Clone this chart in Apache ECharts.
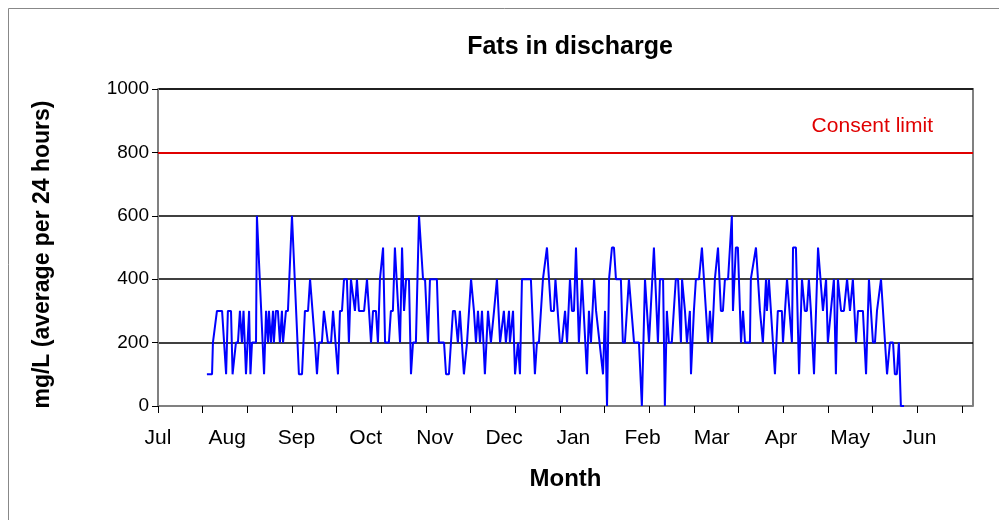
<!DOCTYPE html>
<html>
<head>
<meta charset="utf-8">
<script src="https://cdn.jsdelivr.net/npm/echarts@6/dist/echarts.min.js"></script>
<style>
  html, body { margin: 0; padding: 0; background: #fff; }
  #chart { width: 999px; height: 520px; }
</style>
</head>
<body>
<div id="chart"></div>
<script>
// day number from 1 July, and the fat reading (mg/L) for that sample
var days = [21.9, 24.2, 24.6, 26.4, 28.7, 30.5, 31.3, 32.7, 33.4, 34.9, 35.8, 36.7, 37.6, 38.3, 39.4, 40.8, 41.4, 42.1, 43.9, 44.3,
  47.5, 48.4, 49.3, 49.7, 50.6, 51.5, 51.9, 52.8, 53.7, 54.6, 55.5, 56.0, 57.3, 58.2, 60.0, 63.1, 64.5, 65.8, 67.2, 68.1,
  70.3, 71.2, 72.1, 73.4, 74.3, 76.1, 77.5, 78.4, 80.6, 81.5, 82.4, 83.3, 84.6, 85.5, 86.4, 86.9, 88.2, 89.1, 90.0, 92.3,
  93.6, 94.5, 95.4, 96.3, 97.6, 98.5, 99.4, 100.8, 101.7, 103.4, 104.3, 105.2, 106.1, 108.4, 109.3, 110.2, 111.1, 112.4, 113.3, 114.2,
  115.5, 116.9, 118.7, 119.6, 120.9, 121.8, 124.9, 125.8, 128.1, 129.0, 130.3, 132.1, 133.0, 134.3, 135.2, 137.0, 138.4, 140.2, 141.5, 142.4,
  143.3, 144.2, 145.1, 146.4, 147.8, 149.1, 150.5, 151.8, 153.2, 153.6, 154.9, 155.8, 157.2, 157.6, 159.0, 159.9, 161.2, 162.1, 163.0, 167.0,
  168.8, 169.7, 170.6, 172.4, 174.2, 176.0, 177.3, 178.0, 178.7, 180.0, 180.9, 182.3, 183.2, 184.5, 185.4, 186.3, 187.2, 188.5, 189.9, 192.1,
  193.0, 193.9, 195.3, 196.2, 197.0, 199.3, 200.2, 201.1, 202.0, 203.3, 204.2, 205.1, 207.3, 208.2, 209.1, 210.9, 213.2, 215.4, 216.7, 218.1,
  219.0, 219.9, 222.1, 223.9, 224.8, 226.2, 227.0, 227.5, 227.9, 228.8, 230.1, 231.9, 232.9, 234.2, 234.7, 236.0, 236.9, 238.2, 238.7, 240.0,
  240.9, 242.3, 243.6, 245.4, 246.3, 247.2, 248.1, 249.4, 250.8, 252.1, 253.0, 253.9, 255.3, 257.0, 257.5, 258.8, 259.7, 261.1, 262.0, 262.9,
  265.1, 265.5, 267.8, 269.6, 270.0, 270.9, 272.3, 272.7, 273.6, 276.3, 277.6, 279.4, 279.9, 281.7, 283.9, 284.4, 285.7, 287.1, 288.4, 289.7,
  290.6, 291.5, 292.4, 293.8, 295.6, 297.8, 299.2, 300.0, 300.5, 302.7, 303.6, 304.5, 305.9, 307.2, 308.6, 309.9, 311.2, 312.6, 313.5, 315.7,
  317.1, 318.4, 320.2, 321.1, 322.0, 323.8, 326.5, 327.8, 329.2, 330.0, 330.9, 331.8, 332.7, 334.1];

var fats = [100, 100, 200, 300, 300, 100, 300, 300, 100, 200, 200, 300, 200, 300, 100, 300, 100, 200, 200, 600,
  100, 300, 200, 300, 200, 300, 200, 300, 300, 200, 300, 200, 300, 300, 600, 100, 100, 300, 300, 400,
  200, 100, 200, 200, 300, 200, 200, 300, 100, 300, 300, 400, 400, 200, 400, 400, 300, 400, 300, 300,
  400, 300, 200, 300, 300, 200, 400, 500, 200, 200, 300, 300, 500, 200, 500, 300, 400, 400, 100, 200,
  200, 600, 400, 400, 200, 400, 400, 200, 200, 100, 100, 300, 300, 200, 300, 100, 200, 400, 300, 200,
  300, 200, 300, 100, 300, 200, 300, 400, 200, 200, 300, 200, 300, 200, 300, 100, 200, 100, 400, 400,
  100, 200, 200, 400, 500, 300, 300, 400, 400, 200, 200, 300, 200, 400, 300, 300, 500, 200, 400, 100,
  300, 200, 400, 300, 300, 100, 300, 0, 400, 500, 500, 400, 400, 200, 200, 400, 200, 200, 0, 400,
  300, 200, 500, 200, 400, 400, 0, 0, 300, 200, 200, 400, 400, 200, 400, 300, 200, 300, 100, 300,
  400, 400, 500, 300, 200, 300, 200, 400, 500, 300, 300, 400, 400, 600, 300, 500, 500, 200, 300, 200,
  200, 400, 500, 300, 300, 200, 400, 300, 400, 100, 300, 300, 200, 400, 200, 500, 500, 100, 400, 300,
  300, 400, 300, 100, 500, 300, 400, 200, 200, 400, 100, 400, 300, 300, 400, 300, 400, 200, 300, 300,
  100, 400, 200, 200, 300, 400, 100, 200, 200, 100, 100, 200, 0, 0];

var months = ['Jul', 'Aug', 'Sep', 'Oct', 'Nov', 'Dec', 'Jan', 'Feb', 'Mar', 'Apr', 'May', 'Jun'];
var monthDays = [0, 31, 62, 93, 124, 155, 186, 217, 248, 279, 310, 341];
var tickDays = [0, 20, 40, 60, 80, 100, 120, 140, 160, 180, 200, 220, 240, 260, 280, 300, 320, 340, 360];
var consentLimit = 800;

var points = days.map(function (d, i) { return [d, fats[i]]; });
var font = '"Liberation Sans", Arial, sans-serif';

var chart = echarts.init(document.getElementById('chart'));
var option = {
  animation: false,
  backgroundColor: '#fff',
  textStyle: { fontFamily: font },
  graphic: [{
    type: 'rect',
    shape: { x: 8.5, y: 8.5, width: 1010, height: 530 },
    style: { fill: 'none', stroke: '#888', lineWidth: 1 },
    silent: true
  }, {
    // top and right edge of the plot area
    type: 'polyline',
    shape: { points: [[158, 89], [973, 89], [973, 406]] },
    style: { stroke: '#808080', lineWidth: 2, fill: 'none' },
    silent: true
  }],
  title: {
    text: 'Fats in discharge',
    left: 565,
    top: 30,
    textAlign: 'center',
    textStyle: { fontFamily: font, fontSize: 25, fontWeight: 'bold', color: '#000' }
  },
  grid: { left: 158, right: 26, top: 89, bottom: 114 },
  xAxis: {
    type: 'value',
    min: 0,
    max: 365,
    name: 'Month',
    nameLocation: 'middle',
    nameGap: 61,
    nameTextStyle: { fontFamily: font, fontSize: 24, fontWeight: 'bold', color: '#000' },
    axisLine: { show: true, lineStyle: { color: '#808080', width: 2 } },
    axisTick: { show: true, length: 7, customValues: tickDays, lineStyle: { color: '#000', width: 1 } },
    axisLabel: {
      customValues: monthDays,
      margin: 22,
      fontSize: 21,
      color: '#000',
      formatter: function (v) { return months[monthDays.indexOf(v)] || ''; }
    },
    splitLine: { show: false }
  },
  yAxis: {
    type: 'value',
    min: 0,
    max: 1000,
    interval: 200,
    name: 'mg/L (average per 24 hours)',
    nameLocation: 'middle',
    nameGap: 104,
    nameRotate: 90,
    nameTextStyle: { fontFamily: font, fontSize: 23, fontWeight: 'bold', color: '#000', padding: [0, 14, 0, 0] },
    axisLine: { show: true, lineStyle: { color: '#808080', width: 2 } },
    axisTick: { show: true, length: 6, lineStyle: { color: '#000' } },
    axisLabel: { fontSize: 19, color: '#000', margin: 9, formatter: function (v) { return String(v); } },
    splitLine: { show: true, lineStyle: { color: '#000', width: 1.5 } }
  },
  series: [{
    type: 'line',
    data: points,
    showSymbol: false,
    lineStyle: { color: '#0000ff', width: 2 },
    itemStyle: { color: '#0000ff' },
    z: 3,
    markLine: {
      silent: true,
      symbol: 'none',
      data: [{ yAxis: consentLimit }],
      lineStyle: { color: '#e00000', width: 2, type: 'solid' },
      label: {
        show: true,
        position: 'insideEndTop',
        formatter: 'Consent limit',
        color: '#e00000',
        fontSize: 21,
        fontFamily: font,
        distance: [40, 16]
      }
    }
  }]
};
chart.setOption(option);
</script>
</body>
</html>
